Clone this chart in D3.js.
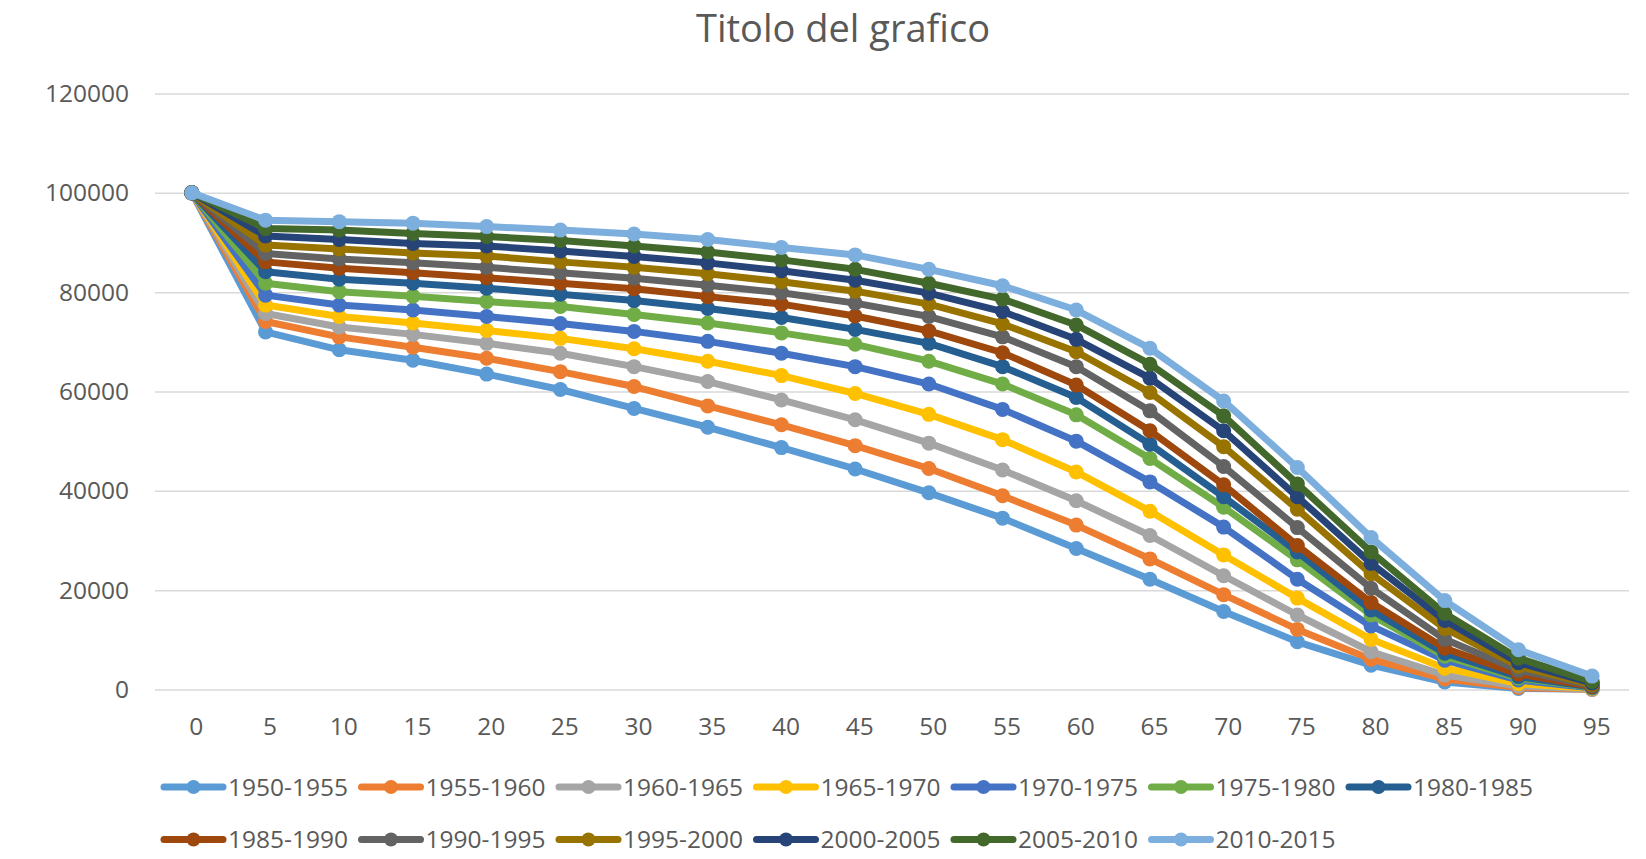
<!DOCTYPE html>
<html>
<head>
<meta charset="utf-8">
<script src="https://cdn.jsdelivr.net/npm/d3@7"></script>
<style>
  body { margin: 0; background: #fff; }
  text { font-family: "Open Sans", sans-serif; fill: #595959; }
  .tick text { font-size: 24.5px; }
  .legend text { font-size: 24.5px; }
  .title { font-size: 38px; }
</style>
</head>
<body>
<svg width="1646" height="859"></svg>
<script>
const svg = d3.select("svg");

const height = +svg.attr("height");
const width = +svg.attr("width");

// ages on the category axis
const ages = [0, 5, 10, 15, 20, 25, 30, 35, 40, 45, 50, 55, 60, 65, 70, 75, 80, 85, 90, 95];
const yTicks = [0, 20000, 40000, 60000, 80000, 100000, 120000];

const periods = ["1950-1955", "1955-1960", "1960-1965", "1965-1970", "1970-1975", "1975-1980", "1980-1985",
    "1985-1990", "1990-1995", "1995-2000", "2000-2005", "2005-2010", "2010-2015"];

const colors = ["#5B9BD5", "#ED7D31", "#A5A5A5", "#FFC000", "#4472C4", "#70AD47", "#255E91",
    "#9E480E", "#636363", "#997300", "#264478", "#43682B", "#7CAFDD"];

// survivors out of 100000, one list per period
const s1950 = [100000, 72000, 68400, 66300, 63500, 60400, 56600, 52800, 48700, 44400, 39600, 34500, 28400, 22200, 15700, 9600, 4900, 1500, 200, 30];
const s1955 = [100000, 74100, 71000, 68900, 66700, 64000, 61000, 57100, 53300, 49100, 44500, 39000, 33100, 26300, 19100, 12100, 6100, 2100, 400, 50];
const s1960 = [100000, 75700, 73000, 71500, 69700, 67700, 65000, 62000, 58300, 54300, 49600, 44200, 38000, 31000, 22900, 15000, 7600, 2900, 700, 100];
const s1965 = [100000, 77400, 75100, 73800, 72300, 70700, 68600, 66100, 63200, 59600, 55400, 50300, 43800, 35900, 27100, 18400, 10100, 4300, 1200, 200];
const s1970 = [100000, 79400, 77400, 76400, 75100, 73700, 72100, 70100, 67700, 65000, 61500, 56400, 50000, 41800, 32700, 22200, 12800, 5900, 1900, 300];
const s1975 = [100000, 81800, 80100, 79200, 78100, 77100, 75500, 73800, 71800, 69500, 66100, 61500, 55300, 46500, 36700, 26100, 15000, 6700, 2300, 400];
const s1980 = [100000, 84100, 82600, 81800, 80800, 79600, 78300, 76700, 74900, 72500, 69700, 65000, 58800, 49400, 38800, 27700, 16000, 7300, 2600, 500];
const s1985 = [100000, 86100, 84800, 83900, 82900, 81800, 80700, 79100, 77600, 75200, 72200, 67800, 61300, 52100, 41200, 29000, 17500, 8300, 3100, 600];
const s1990 = [100000, 87800, 86700, 85900, 85000, 83900, 82800, 81400, 79900, 77800, 75100, 71000, 65000, 56100, 44900, 32600, 20400, 10100, 3900, 800];
const s1995 = [100000, 89500, 88700, 87900, 87300, 86100, 85000, 83700, 82100, 80200, 77600, 73600, 68000, 59800, 48900, 36300, 23300, 12300, 4700, 1000];
const s2000 = [100000, 91300, 90600, 89800, 89300, 88300, 87200, 85900, 84300, 82400, 79800, 76100, 70500, 62700, 52100, 38800, 25400, 13900, 5400, 1300];
const s2005 = [100000, 92800, 92500, 91800, 91200, 90400, 89300, 88100, 86500, 84600, 81800, 78600, 73400, 65500, 55100, 41400, 27700, 15300, 6300, 1600];
const s2010 = [100000, 94500, 94200, 93900, 93200, 92500, 91700, 90600, 89000, 87500, 84600, 81300, 76400, 68700, 58100, 44700, 30600, 17900, 8000, 2700];

const series = [s1950, s1955, s1960, s1965, s1970, s1975, s1980, s1985, s1990, s1995, s2000, s2005, s2010]
    .map((values, i) => ({ name: periods[i], color: colors[i], values }));

const render = () => {
    const margin = { top: 93.5, right: 17, bottom: 169.5, left: 155 };
    const innerWidth = width - margin.left - margin.right;
    const innerHeight = height - margin.top - margin.bottom;

    const xScale = d3.scalePoint()
        .domain(ages)
        .range([0, innerWidth])
        .padding(0.5);

    const yScale = d3.scaleLinear()
        .domain([0, 120000])
        .range([innerHeight, 0]);

    const g = svg.append("g")
        .attr("transform", `translate(${margin.left}, ${margin.top})`);

    // gridlines + y labels
    const yAxisG = g.append("g")
        .call(d3.axisLeft(yScale).tickValues(yTicks).tickFormat(d3.format("d"))
            .tickSize(-innerWidth).tickPadding(26));
    yAxisG.select(".domain").remove();
    yAxisG.selectAll(".tick line").attr("stroke", "#D9D9D9").attr("stroke-width", 1.5);

    const xAxisG = g.append("g")
        .attr("transform", `translate(0, ${innerHeight})`)
        .call(d3.axisBottom(xScale).tickSize(0).tickPadding(28));
    xAxisG.select(".domain").remove();
    xAxisG.selectAll(".tick text").attr("dx", 4);

    svg.selectAll(".tick text").attr("fill", "#595959").attr("font-family", null).attr("font-size", null);

    const line = d3.line()
        .x((d, i) => xScale(ages[i]))
        .y(d => yScale(d));

    // each series: line then its markers, first period at the bottom
    const sg = g.selectAll(".series").data(series)
        .enter().append("g")
            .attr("class", "series");

    sg.append("path")
        .attr("d", d => line(d.values))
        .attr("fill", "none")
        .attr("stroke", d => d.color)
        .attr("stroke-width", 7)
        .attr("stroke-linejoin", "round")
        .attr("stroke-linecap", "round");

    sg.selectAll("circle").data(d => d.values.map((v, i) => ({ v, i, color: d.color })))
        .enter().append("circle")
            .attr("cx", d => xScale(ages[d.i]))
            .attr("cy", d => yScale(d.v))
            .attr("r", 7.5)
            .attr("fill", d => d.color);

    // title
    svg.append("text")
        .attr("class", "title")
        .attr("x", 843)
        .attr("y", 42)
        .attr("text-anchor", "middle")
        .text("Titolo del grafico");

    // legend, 7 per row
    const itemW = 197.5;
    const legend = svg.append("g")
        .attr("class", "legend")
        .attr("transform", "translate(160, 787)");

    const items = legend.selectAll("g").data(series)
        .enter().append("g")
            .attr("transform", (d, i) => `translate(${(i % 7) * itemW}, ${Math.floor(i / 7) * 52.5})`);

    items.append("line")
        .attr("x1", 4).attr("x2", 63)
        .attr("stroke", d => d.color)
        .attr("stroke-width", 7)
        .attr("stroke-linecap", "round");

    items.append("circle")
        .attr("cx", 33.5)
        .attr("r", 7)
        .attr("fill", d => d.color);

    items.append("text")
        .attr("x", 68)
        .attr("dy", "0.35em")
        .text(d => d.name);
};

render();
</script>
</body>
</html>
